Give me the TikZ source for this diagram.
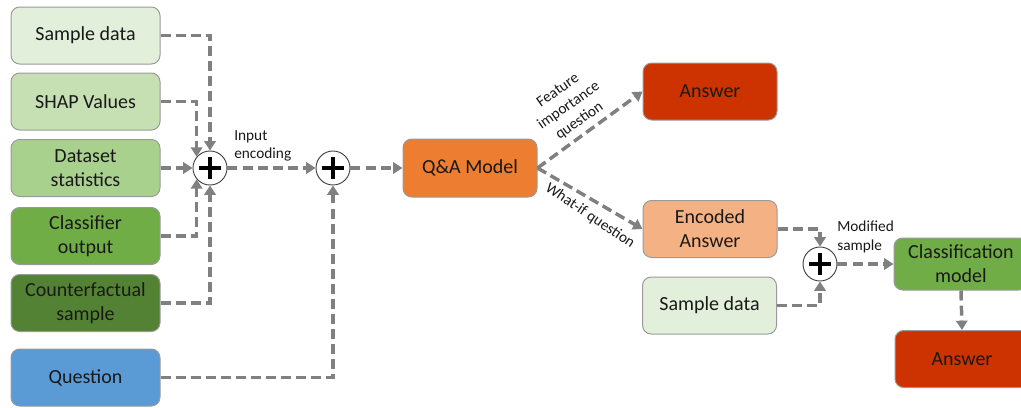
\documentclass[tikz,border=0pt]{standalone}
\usepackage{fontspec}
\setmainfont{Carlito}
\usetikzlibrary{arrows.meta}

\definecolor{grnA}{HTML}{E2EFDA}
\definecolor{grnB}{HTML}{C6E0B4}
\definecolor{grnC}{HTML}{A9D18E}
\definecolor{grnD}{HTML}{70AD47}
\definecolor{grnE}{HTML}{548235}
\definecolor{bluQ}{HTML}{5B9BD5}
\definecolor{orgM}{HTML}{ED7D31}
\definecolor{orgL}{HTML}{F4B183}
\definecolor{redA}{HTML}{CC3300}
\definecolor{edge}{HTML}{9A9A9A}
\definecolor{link}{HTML}{808080}

\tikzset{
  box/.style={draw=edge, line width=0.75pt, rounded corners=6.5pt,
    inner sep=0pt, align=center, text=black!90,
    font=\fontsize{15}{18}\selectfont},
  leftbox/.style={box, minimum width=111.75pt, minimum height=42.75pt},
  rightbox/.style={box, minimum width=100.5pt, minimum height=42.75pt},
  sumnode/.style={circle, draw=black!75, line width=0.7pt, fill=white,
    minimum size=25.5pt, inner sep=0pt},
  conn/.style={draw=link, line width=2.6pt, dash pattern=on 7.5pt off 3.8pt,
    -{Triangle[length=7pt,width=8.5pt]}},
  lbl/.style={font=\fontsize{11.5}{14}\selectfont, text=black!90, inner sep=0pt}
}

\newcommand\plusmark[1]{%
  \draw[line width=2.6pt, black] ([xshift=-8pt]#1.center) -- ([xshift=8pt]#1.center)
    ([yshift=-8pt]#1.center) -- ([yshift=8pt]#1.center);}

\begin{document}
\begin{tikzpicture}[x=0.75pt,y=-0.75pt]
\useasboundingbox (0,0) rectangle (1021,407);

% inputs
\node[leftbox, fill=grnA] (sd1) at (85.5,35.5) {Sample data};
\node[leftbox, fill=grnB] (shap) at (85.5,101.5) {SHAP Values};
\node[leftbox, fill=grnC] (ds) at (85.5,168) {Dataset\\statistics};
\node[leftbox, fill=grnD] (clf) at (85.5,236) {Classifier\\output};
\node[leftbox, fill=grnE] (cf) at (85.5,303) {Counterfactual\\sample};
\node[leftbox, fill=bluQ] (q) at (85.5,377.5) {Question};

% summation points
\node[sumnode] (p1) at (210,168) {};
\node[sumnode] (p2) at (333,168) {};
\node[sumnode] (p3) at (820,264) {};
\plusmark{p1}\plusmark{p2}\plusmark{p3}

% model and outputs
\node[box, fill=orgM, minimum width=100.5pt, minimum height=43.5pt] (qa) at (470,168) {Q\&A Model};
\node[rightbox, fill=redA] (ans1) at (710,91.5) {Answer};
\node[rightbox, fill=orgL] (enc) at (710,229) {Encoded\\Answer};
\node[rightbox, fill=grnA] (sd2) at (709.5,305.5) {Sample data};
\node[box, fill=grnD, minimum width=100.5pt, minimum height=39pt] (cls) at (961,264) {Classification\\model};
\node[rightbox, fill=redA] (ans2) at (962,359) {Answer};

% connectors
\draw[conn] (sd1.east) -| (p1.north);
\draw[conn] (shap.east) -| (p1.140);
\draw[conn] (ds.east) -- (p1.west);
\draw[conn] (clf.east) -| (p1.220);
\draw[conn] (cf.east) -| (p1.south);
\draw[conn] (q.east) -| (p2.south);
\draw[conn] (p1.east) -- (p2.west);
\draw[conn] (p2.east) -- (qa.west);
\draw[conn] (qa.east) -- (ans1.west);
\draw[conn] (qa.east) -- (enc.west);
\draw[conn] (enc.east) -| (p3.north);
\draw[conn] (sd2.east) -| (p3.south);
\draw[conn] (p3.east) -- (cls.west);
\draw[conn] (cls.south) -- (ans2.north);

% labels
\node[lbl, align=left, anchor=west] (lin) at (234,146) {Input\\encoding};
\node[lbl, align=center, rotate=35] (lfi) at (569,106) {Feature\\importance\\question};
\node[lbl, rotate=-34] (lwi) at (590,216) {What-if question};
\node[lbl, align=left, anchor=west] (lmod) at (837,237) {Modified\\sample};
\end{tikzpicture}
\end{document}
